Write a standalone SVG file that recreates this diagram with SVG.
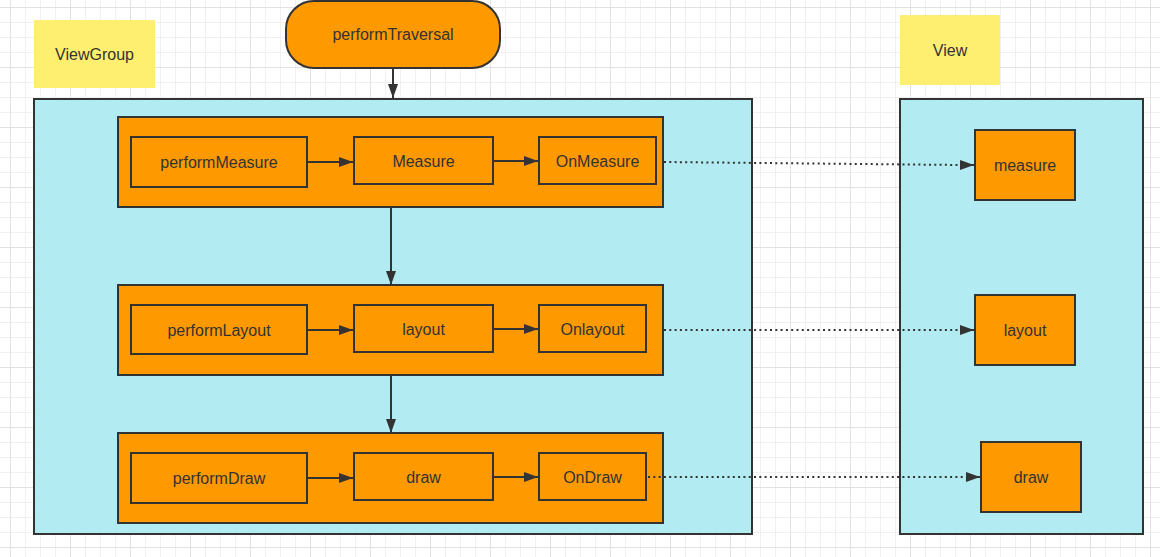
<svg xmlns="http://www.w3.org/2000/svg" width="1160" height="557" viewBox="0 0 1160 557">
<style>
.t{font-family:"Liberation Sans",Arial,sans-serif;font-size:16px;fill:#333;text-anchor:middle;dominant-baseline:central}
.box{fill:#FF9900;stroke:#333;stroke-width:2}
.cont{fill:#B2EBF2;stroke:#333;stroke-width:2}
.note{fill:#FFEF70}
.ln{stroke:#333;stroke-width:2;fill:none}
.dot{stroke:#333;stroke-width:2;fill:none;stroke-dasharray:2 3.3}
</style>
<defs>
<pattern id="grid" patternUnits="userSpaceOnUse" x="10" y="7" width="60" height="60">
<path d="M15.5 0V60M30.5 0V60M45.5 0V60M0 15.5H60M0 30.5H60M0 45.5H60" stroke="#f0f0f0" stroke-width="1"/>
<path d="M0.5 0V60M0 0.5H60" stroke="#e2e2e2" stroke-width="1"/>
</pattern>
<marker id="ah" markerUnits="userSpaceOnUse" markerWidth="16" markerHeight="12" refX="14" refY="5" orient="auto">
<path d="M0 0L14 5L0 10Z" fill="#333"/>
</marker>
</defs>
<rect width="1160" height="557" fill="#fff"/>
<rect width="1160" height="557" fill="url(#grid)"/>

<g id="viewgroup-label"><rect class="note" x="34" y="20" width="121" height="68"/><text class="t" x="94.5" y="54">ViewGroup</text></g>
<g id="view-label"><rect class="note" x="900" y="15" width="100" height="70"/><text class="t" x="950" y="50">View</text></g>

<g id="performTraversal"><rect class="box" x="286" y="1" width="214" height="67" rx="28" ry="28"/><text class="t" x="393" y="34">performTraversal</text></g>

<g id="viewgroup"><rect class="cont" x="34" y="99" width="718" height="435"/></g>
<g id="view"><rect class="cont" x="900" y="99" width="243" height="435"/></g>

<g id="row-measure"><rect class="box" x="118" y="117" width="545" height="90"/></g>
<g id="row-layout"><rect class="box" x="118" y="285" width="545" height="90"/></g>
<g id="row-draw"><rect class="box" x="118" y="433" width="545" height="90"/></g>

<g id="performMeasure"><rect class="box" x="131" y="137" width="176" height="50"/><text class="t" x="219" y="162">performMeasure</text></g>
<g id="Measure"><rect class="box" x="354" y="137" width="139" height="47"/><text class="t" x="423.5" y="161">Measure</text></g>
<g id="OnMeasure"><rect class="box" x="539" y="137" width="117" height="47"/><text class="t" x="597.5" y="161">OnMeasure</text></g>

<g id="performLayout"><rect class="box" x="131" y="305" width="176" height="49"/><text class="t" x="219" y="330">performLayout</text></g>
<g id="layout"><rect class="box" x="354" y="305" width="139" height="47"/><text class="t" x="423.5" y="329">layout</text></g>
<g id="Onlayout"><rect class="box" x="539" y="305" width="107" height="47"/><text class="t" x="592.5" y="329">Onlayout</text></g>

<g id="performDraw"><rect class="box" x="131" y="453" width="176" height="50"/><text class="t" x="219" y="478">performDraw</text></g>
<g id="draw"><rect class="box" x="354" y="453" width="139" height="47"/><text class="t" x="423.5" y="477">draw</text></g>
<g id="OnDraw"><rect class="box" x="539" y="453" width="107" height="47"/><text class="t" x="592.5" y="477">OnDraw</text></g>

<g id="view-measure"><rect class="box" x="975" y="130" width="100" height="70"/><text class="t" x="1025" y="165">measure</text></g>
<g id="view-layout"><rect class="box" x="975" y="295" width="100" height="70"/><text class="t" x="1025" y="330">layout</text></g>
<g id="view-draw"><rect class="box" x="981" y="442" width="100" height="70"/><text class="t" x="1031" y="477">draw</text></g>

<g id="connectors">
<path class="ln" d="M393 68V98" marker-end="url(#ah)"/>
<path class="ln" d="M391 207V285" marker-end="url(#ah)"/>
<path class="ln" d="M391 375V433" marker-end="url(#ah)"/>
<path class="ln" d="M307 162H353" marker-end="url(#ah)"/>
<path class="ln" d="M493 161H538" marker-end="url(#ah)"/>
<path class="ln" d="M307 330H353" marker-end="url(#ah)"/>
<path class="ln" d="M493 329H538" marker-end="url(#ah)"/>
<path class="ln" d="M307 478H353" marker-end="url(#ah)"/>
<path class="ln" d="M493 477H538" marker-end="url(#ah)"/>
<path class="dot" d="M664 162L960 165"/>
<path class="ln" d="M960 165H974" marker-end="url(#ah)"/>
<path class="dot" d="M664 330H961"/>
<path class="ln" d="M961 330H974" marker-end="url(#ah)"/>
<path class="dot" d="M648 477H967"/>
<path class="ln" d="M967 477H980" marker-end="url(#ah)"/>
</g>
</svg>
